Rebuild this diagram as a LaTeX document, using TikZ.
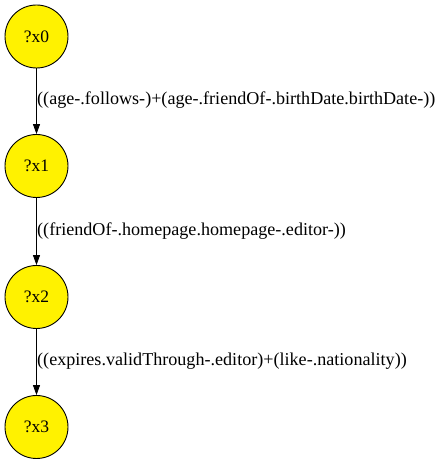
\documentclass[tikz,border=0pt]{standalone}
\usepackage{fontspec}
\setmainfont{Liberation Serif}
\usetikzlibrary{arrows.meta}
\begin{document}
\begin{tikzpicture}[x=1pt,y=1pt,
  var/.style={circle,draw=black,line width=0.9pt,fill=yellow,minimum size=63pt,inner sep=0pt,font=\fontsize{17.5}{20}\selectfont},
  lbl/.style={anchor=west,inner sep=0pt,font=\fontsize{18.1}{20}\selectfont},
  edge/.style={draw=black,line width=0.9pt,-{Triangle[length=10pt,width=7pt]}}]
\useasboundingbox (0,0) rectangle (442,464);
\node[var] (x0) at (36.5,427.5) {?x0};
\node[var] (x1) at (36.5,298) {?x1};
\node[var] (x2) at (36.5,167) {?x2};
\node[var] (x3) at (36.5,37) {?x3};
\draw[edge] (x0) -- (x1);
\draw[edge] (x1) -- (x2);
\draw[edge] (x2) -- (x3);
\node[lbl] (l0) at (37,364) {((age-.follows-)+(age-.friendOf-.birthDate.birthDate-))};
\node[lbl] (l1) at (37,232.5) {((friendOf-.homepage.homepage-.editor-))};
\node[lbl] (l2) at (37,102.5) {((expires.validThrough-.editor)+(like-.nationality))};
\end{tikzpicture}
\end{document}
